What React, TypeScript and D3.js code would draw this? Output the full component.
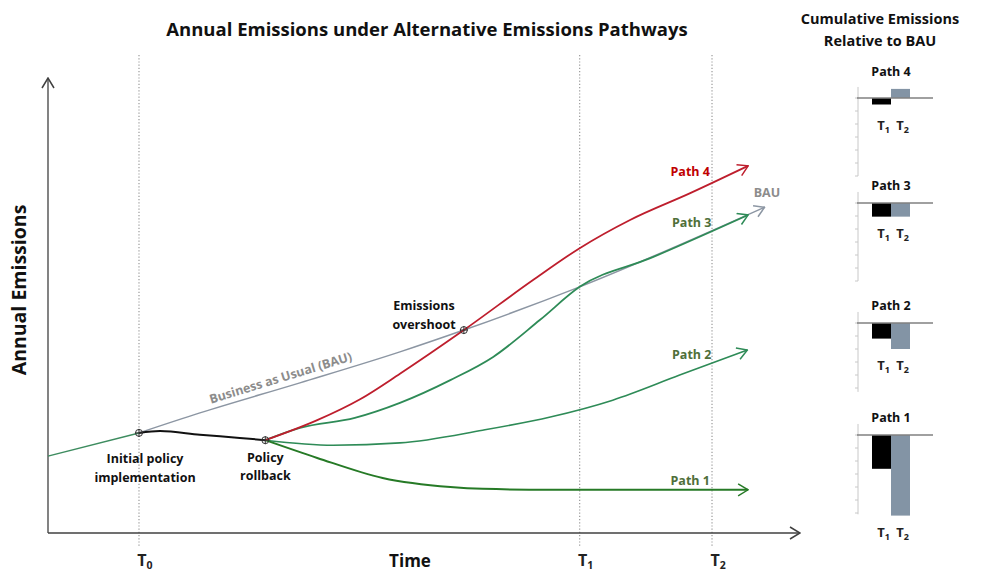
import { useEffect, useRef } from "react";
import * as d3 from "d3";

// time markers on the x axis (time units 0-100)
const markTimes = [12.1, 70.7, 88.3];
const markSubs = ["0", "1", "2"];

// annual emission pathways, [time, emissions]
const prePolicy = [[0, 16.9], [12.1, 22.0]];
const bau = [[12.1, 22.0], [20.2, 26.4], [33.5, 33.0], [46.8, 39.8], [55.3, 44.6], [70.7, 54.1], [95.3, 71.6]];
const policy = [[12.1, 22.0], [14.9, 22.4], [20.2, 21.6], [25.5, 20.9], [28.9, 20.4]];
const path4 = [[28.9, 20.4], [35.8, 24.8], [41.5, 29.4], [46.8, 35.0], [55.3, 44.6], [64.5, 55.6], [70.7, 62.6], [77.4, 68.8], [85.4, 74.7], [93.1, 80.7]];
const path3 = [[28.9, 20.4], [33.5, 23.1], [40.8, 25.3], [46.8, 28.6], [53.5, 33.6], [59.2, 38.7], [65.4, 46.8], [70.7, 54.1], [80.1, 60.4], [93.1, 69.9]];
const path2 = [[28.9, 20.4], [37.9, 19.3], [46.8, 19.8], [57.8, 22.6], [66.8, 25.5], [75.1, 29.2], [84.0, 34.7], [93.0, 40.2]];
const path1 = [[28.9, 20.4], [35.8, 16.5], [44.5, 12.1], [53.5, 10.1], [57.8, 9.7], [66.8, 9.5], [93.1, 9.5]];
const events = [[12.1, 22.0], [28.9, 20.4], [55.3, 44.6]];

// cumulative emissions relative to BAU
const panelNames = ["Path 4", "Path 3", "Path 2", "Path 1"];
const cumT1 = [-0.5, -1.05, -1.2, -2.6];
const cumT2 = [0.7, -1.05, -2.0, -6.2];
const axisMins = [-6, -6, -5.3, -6.1];

export default function App() {
    const ref = useRef(null);

    useEffect(() => {
        const width = 984;
        const height = 573;
        const font = "'Open Sans', Lato, sans-serif";

        const root = d3.select(ref.current);
        root.selectAll("*").remove();
        const svg = root.append("svg")
            .attr("width", width)
            .attr("height", height)
            .style("position", "absolute")
            .style("left", "0px")
            .style("top", "0px")
            .style("font-family", font);

        // scales
        const x = d3.scaleLinear().domain([0, 100]).range([48, 800]);
        const y = d3.scaleLinear().domain([0, 100]).range([533, 78]);

        // arrow markers
        const defs = svg.append("defs");
        function arrow(id, color) {
            defs.append("marker")
                .attr("id", id)
                .attr("viewBox", "-1 -1 12 14")
                .attr("refX", 10)
                .attr("refY", 6)
                .attr("markerUnits", "userSpaceOnUse")
                .attr("markerWidth", 12)
                .attr("markerHeight", 14)
                .attr("orient", "auto")
                .append("path")
                .attr("d", "M0,0 L10,6 L0,12")
                .attr("fill", "none")
                .attr("stroke", color)
                .attr("stroke-width", 1.5);
            return "url(#" + id + ")";
        }

        // title
        svg.append("text")
            .attr("x", 427).attr("y", 36)
            .attr("text-anchor", "middle")
            .attr("font-size", 18.5).attr("font-weight", "bold")
            .attr("fill", "#111")
            .text("Annual  Emissions under Alternative Emissions Pathways");

        // dotted time markers
        svg.selectAll(".mark")
            .data(markTimes).enter()
            .append("line")
            .attr("x1", (d) => x(d)).attr("x2", (d) => x(d))
            .attr("y1", 55).attr("y2", 547)
            .attr("stroke", "#9a9a9a")
            .attr("stroke-width", 1.2)
            .attr("stroke-dasharray", "1.2,2");

        const tl = svg.selectAll(".tlab")
            .data(markTimes).enter()
            .append("text")
            .attr("x", (d) => x(d) + 6).attr("y", 566)
            .attr("text-anchor", "middle")
            .attr("font-weight", "bold")
            .attr("fill", "#222");
        tl.append("tspan").attr("font-size", 16).text("T");
        tl.append("tspan").attr("font-size", 10.5).attr("dy", 3).text((d, i) => markSubs[i]);

        // axes
        svg.append("line")
            .attr("x1", x(0)).attr("x2", x(0))
            .attr("y1", y(0)).attr("y2", y(100))
            .attr("stroke", "#404040").attr("stroke-width", 1.3)
            .attr("marker-end", arrow("ax", "#404040"));
        svg.append("line")
            .attr("x1", x(0)).attr("x2", x(100))
            .attr("y1", y(0)).attr("y2", y(0))
            .attr("stroke", "#404040").attr("stroke-width", 1.3)
            .attr("marker-end", arrow("ax2", "#404040"));

        svg.append("text")
            .attr("transform", "translate(26, 290) rotate(-90)")
            .attr("text-anchor", "middle")
            .attr("font-size", 19.5).attr("font-weight", "bold")
            .attr("fill", "#111")
            .text("Annual Emissions");

        svg.append("text")
            .attr("x", 410).attr("y", 567)
            .attr("text-anchor", "middle")
            .attr("font-size", 17).attr("font-weight", "bold")
            .attr("fill", "#111")
            .text("Time");

        // lines
        const line = d3.line()
            .x((d) => x(d[0]))
            .y((d) => y(d[1]))
            .curve(d3.curveMonotoneX);

        const series = [
            { data: bau, color: "#8c96a3", w: 1.5, arrow: true },
            { data: prePolicy, color: "#3d8c5f", w: 1.5, arrow: false },
            { data: path2, color: "#2e8b57", w: 1.6, arrow: true },
            { data: path1, color: "#267a26", w: 2, arrow: true },
            { data: path3, color: "#2e8b57", w: 1.8, arrow: true },
            { data: path4, color: "#be1e2d", w: 1.8, arrow: true },
            { data: policy, color: "#111111", w: 2, arrow: false },
        ];
        series.forEach(function(s, i) {
            const p = svg.append("path")
                .attr("d", line(s.data))
                .attr("fill", "none")
                .attr("stroke", s.color)
                .attr("stroke-width", s.w);
            if (s.arrow) {
                p.attr("marker-end", arrow("a" + i, s.color));
            }
        });

        // event markers
        const ev = svg.selectAll(".ev")
            .data(events).enter()
            .append("g")
            .attr("transform", (d) => "translate(" + x(d[0]) + "," + y(d[1]) + ")");
        ev.append("circle").attr("r", 3.5).attr("fill", "none").attr("stroke", "#333").attr("stroke-width", 1);
        ev.append("path").attr("d", "M-4,0 H4 M0,-4 V4").attr("stroke", "#333").attr("stroke-width", 1);

        // annotations
        const notes = [
            { t: 85.4, e: 78.5, text: "Path 4", color: "#c00000" },
            { t: 95.6, e: 73.8, text: "BAU", color: "#8c8c8c" },
            { t: 85.6, e: 67.3, text: "Path 3", color: "#4f6f3a" },
            { t: 85.6, e: 38.2, text: "Path 2", color: "#4f6f3a" },
            { t: 85.4, e: 10.5, text: "Path 1", color: "#4f6f3a" },
            { t: 50.0, e: 49.0, text: "Emissions", color: "#111" },
            { t: 50.0, e: 44.8, text: "overshoot", color: "#111" },
            { t: 12.9, e: 15.4, text: "Initial policy", color: "#111" },
            { t: 12.9, e: 11.2, text: "implementation", color: "#111" },
            { t: 28.9, e: 15.6, text: "Policy", color: "#111" },
            { t: 28.9, e: 11.6, text: "rollback", color: "#111" },
        ];
        svg.selectAll(".note")
            .data(notes).enter()
            .append("text")
            .attr("x", (d) => x(d.t)).attr("y", (d) => y(d.e))
            .attr("text-anchor", "middle")
            .attr("font-size", 12.5).attr("font-weight", "bold")
            .attr("fill", (d) => d.color)
            .text((d) => d.text);

        svg.append("text")
            .attr("transform", "translate(" + x(31.1) + "," + y(33.2) + ") rotate(-17)")
            .attr("text-anchor", "middle")
            .attr("font-size", 12.5).attr("font-weight", "bold")
            .attr("fill", "#8c8c8c")
            .text("Business as Usual (BAU)");

        // cumulative panel
        svg.append("text")
            .attr("x", 880).attr("y", 24)
            .attr("text-anchor", "middle")
            .attr("font-size", 14.5).attr("font-weight", "bold")
            .attr("fill", "#111")
            .text("Cumulative Emissions");
        svg.append("text")
            .attr("x", 880).attr("y", 46)
            .attr("text-anchor", "middle")
            .attr("font-size", 14.5).attr("font-weight", "bold")
            .attr("fill", "#111")
            .text("Relative to BAU");

        const panelZero = [98, 203, 323, 435];
        const bx = d3.scaleBand().domain(["1", "2"]).range([872, 910]);

        panelNames.forEach(function(name, i) {
            const z = panelZero[i];
            const ys = d3.scaleLinear().domain([0, 1]).range([z, z - 13]);
            const vals = [cumT1[i], cumT2[i]];
            const g = svg.append("g");

            // small axis
            g.append("line")
                .attr("x1", 858).attr("x2", 858)
                .attr("y1", ys(0.85)).attr("y2", ys(axisMins[i]))
                .attr("stroke", "#c8c8c8").attr("stroke-width", 1);
            g.selectAll(".tk")
                .data(d3.range(Math.ceil(axisMins[i]), 1)).enter()
                .append("line")
                .attr("x1", 855).attr("x2", 858)
                .attr("y1", (d) => ys(d)).attr("y2", (d) => ys(d))
                .attr("stroke", "#c8c8c8");

            g.selectAll(".bar")
                .data(vals).enter()
                .append("rect")
                .attr("x", (d, j) => bx(bx.domain()[j]))
                .attr("width", bx.bandwidth())
                .attr("y", (d) => ys(Math.max(0, d)))
                .attr("height", (d) => Math.abs(ys(d) - ys(0)))
                .attr("fill", (d, j) => (j === 0 ? "#000000" : "#8394a5"));

            g.append("line")
                .attr("x1", 857).attr("x2", 933)
                .attr("y1", z).attr("y2", z)
                .attr("stroke", "#808080").attr("stroke-width", 1.5);

            const top = ys(Math.max(0, d3.max(vals)));
            const bottom = ys(Math.min(0, d3.min(vals)));
            g.append("text")
                .attr("x", 891).attr("y", top - 13)
                .attr("text-anchor", "middle")
                .attr("font-size", 12.5).attr("font-weight", "bold")
                .attr("fill", "#111")
                .text(name);

            const ly = Math.max(z + 32, bottom + 21);
            const lab = g.selectAll(".lab")
                .data(bx.domain()).enter()
                .append("text")
                .attr("x", (d) => bx(d) + bx.bandwidth() / 2 + 2)
                .attr("y", ly)
                .attr("text-anchor", "middle")
                .attr("font-weight", "bold")
                .attr("fill", "#222");
            lab.append("tspan").attr("font-size", 13).text("T");
            lab.append("tspan").attr("font-size", 9).attr("dy", 3).text((d) => d);
        });
    }, []);

    return <div ref={ref} />;
}
